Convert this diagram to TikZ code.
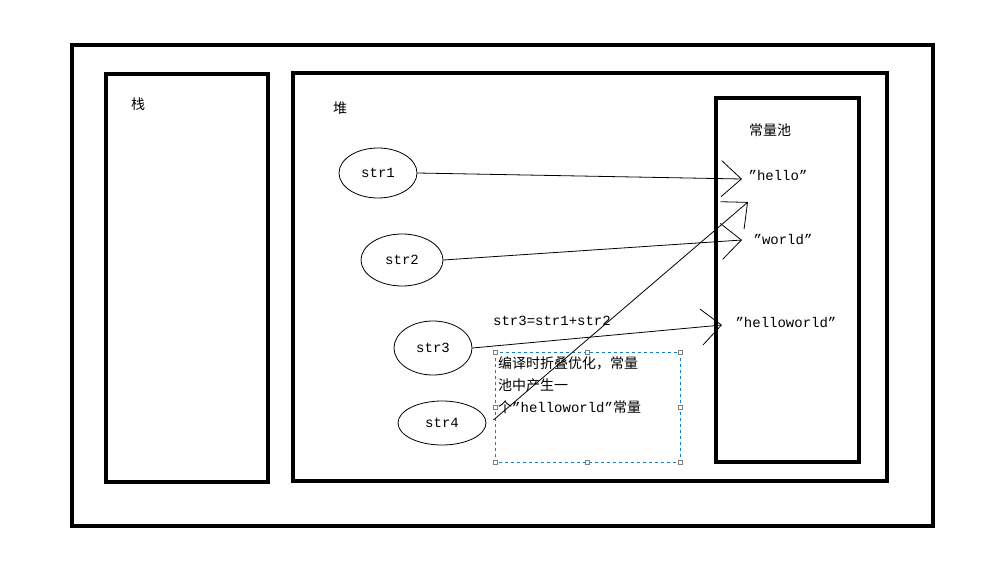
\documentclass[tikz,border=0pt]{standalone}
\usepackage{fontspec}
\setmainfont{Liberation Mono}
\newfontfamily\cjk{Noto Sans CJK SC}
\usetikzlibrary{arrows.meta,shapes.geometric}
\tikzset{
	wall/.style={draw, line width=4pt},
	var/.style={draw, ellipse, line width=0.8pt, inner sep=0pt},
	ref/.style={line width=0.8pt, -{Straight Barb[length=20pt,width=36pt,line width=0.8pt]}},
	handle/.style={draw=gray, fill=white, minimum size=4pt, inner sep=0pt}
}
\begin{document}
\begin{tikzpicture}[x=1pt, y=-1pt, font=\fontsize{14}{17}\selectfont]
	\useasboundingbox[fill=white] (0,0) rectangle (1002,570);
	%frames
	\draw[wall] (72,45) rectangle (933,526);
	\draw[wall] (106,74) rectangle (268,482);
	\draw[wall] (293,73) rectangle (887,481);
	\draw[wall] (716,98) rectangle (859,462);
	%titles
	\node[font=\cjk\fontsize{14}{17}\selectfont] (stack) at (138,104) {栈};
	\node[font=\cjk\fontsize{14}{17}\selectfont] (heap) at (340,108) {堆};
	\node[font=\cjk\fontsize{14}{17}\selectfont] (pool) at (770,130) {常量池};
	%variables
	\node[var, minimum width=78pt, minimum height=50pt] (str1) at (378,173) {str1};
	\node[var, minimum width=82pt, minimum height=52pt] (str2) at (402,260) {str2};
	\node[var, minimum width=78pt, minimum height=54pt] (str3) at (433,348) {str3};
	\node[var, minimum width=88pt, minimum height=44pt] (str4) at (442,423) {str4};
	%constants
	\node (hello) at (778,175) {"hello"};
	\node (world) at (783,240) {"world"};
	\node (hw) at (786,323) {"helloworld"};
	\coordinate (hellotip) at (742,179);
	\coordinate (worldtip) at (742,240);
	\coordinate (hwtip) at (722,325);
	\coordinate (foldtip) at (748,202);
	%note
	\node (expr) at (552,321) {str3=str1+str2};
	\draw[cyan!60!blue, dashed, line width=0.6pt] (495,352) rectangle (680,462);
	\foreach \p in {(495,352),(587,352),(680,352),(495,407),(680,407),(495,462),(587,462),(680,462)}
	\node[handle] at \p {};
	\node[anchor=north west, align=left, inner sep=0pt, text width=180pt,
		font=\fontsize{14}{22}\selectfont] (note) at (498,356)
		{{\cjk 编译时折叠优化，常量}\\{\cjk 池中产生一}\\{\cjk 个}"helloworld"{\cjk 常量}};
	%references
	\draw[ref] (str1.east) -- (hellotip);
	\draw[ref] (str2.east) -- (worldtip);
	\draw[ref] (str3.east) -- (hwtip);
	\draw[ref] (str4.east) ++(7,-3) coordinate (foldstart) -- (foldtip);
\end{tikzpicture}
\end{document}
